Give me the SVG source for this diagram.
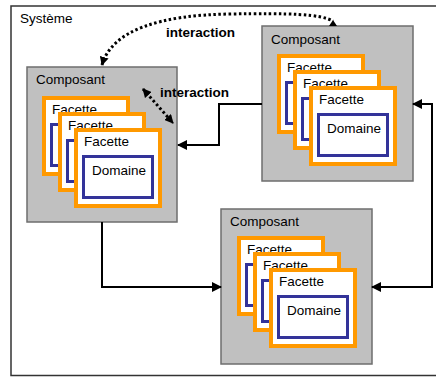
<svg xmlns="http://www.w3.org/2000/svg" width="436" height="378" viewBox="0 0 436 378">
<style>
text{font-family:"Liberation Sans",Arial,sans-serif;font-size:13.5px;fill:#000}
.b{font-weight:bold}
.comp{fill:#c0c0c0;stroke:#6e6e6e;stroke-width:1.5}
.fac{fill:#fff;stroke:#ff9900;stroke-width:4}
.dom{fill:#fff;stroke:#333399;stroke-width:3}
.solid{fill:none;stroke:#000;stroke-width:2}
.dot{fill:none;stroke:#000;stroke-width:3;stroke-dasharray:2.5 2.5}
</style>
<defs>
<marker id="ah" viewBox="0 0 10 10" refX="9" refY="5" markerWidth="10" markerHeight="10" markerUnits="userSpaceOnUse" orient="auto-start-reverse"><path d="M0,0 L10,5 L0,10 Z" fill="#000"/></marker>
<marker id="ahd" viewBox="0 0 10 10" refX="9" refY="5" markerWidth="9" markerHeight="9" markerUnits="userSpaceOnUse" orient="auto-start-reverse"><path d="M0,0 L10,5 L0,10 Z" fill="#000"/></marker>
<marker id="ahup" viewBox="0 0 10 10" refX="9" refY="5" markerWidth="9" markerHeight="9" markerUnits="userSpaceOnUse" orient="-90"><path d="M0,0 L10,5 L0,10 Z" fill="#000"/></marker>
</defs>
<g id="systeme">
<rect x="11" y="6" width="440" height="369.5" fill="#fff" stroke="#333" stroke-width="1.5"/>
<text x="20" y="23">Système</text>
</g>
<g id="composant-gauche">
<rect class="comp" x="27" y="67" width="150" height="155"/>
<text x="36" y="84">Composant</text>
<rect class="fac" x="44" y="98" width="84" height="76"/>
<rect class="dom" x="51.5" y="124.5" width="69" height="41"/>
<text x="52" y="114">Facette</text>
<rect class="fac" x="60" y="114" width="84" height="76"/>
<rect class="dom" x="67.5" y="140.5" width="69" height="41"/>
<text x="68" y="130">Facette</text>
<rect class="fac" x="76" y="130" width="84" height="76"/>
<rect class="dom" x="83.5" y="156.5" width="69" height="41"/>
<text x="84" y="146">Facette</text>
<text x="92" y="175">Domaine</text>
</g>
<g id="composant-haut">
<rect class="comp" x="262" y="26" width="151" height="155"/>
<text x="271" y="44">Composant</text>
<rect class="fac" x="279" y="56" width="84" height="76"/>
<rect class="dom" x="286.5" y="82.5" width="69" height="41"/>
<text x="287" y="72">Facette</text>
<rect class="fac" x="295" y="72" width="84" height="76"/>
<rect class="dom" x="302.5" y="98.5" width="69" height="41"/>
<text x="303" y="88">Facette</text>
<rect class="fac" x="311" y="88" width="84" height="76"/>
<rect class="dom" x="318.5" y="114.5" width="69" height="41"/>
<text x="319" y="104">Facette</text>
<text x="327" y="133">Domaine</text>
</g>
<g id="composant-bas">
<rect class="comp" x="221" y="209" width="151" height="155"/>
<text x="230" y="226">Composant</text>
<rect class="fac" x="239" y="238" width="84" height="76"/>
<rect class="dom" x="246.5" y="264.5" width="69" height="41"/>
<text x="247" y="254">Facette</text>
<rect class="fac" x="255" y="254" width="84" height="76"/>
<rect class="dom" x="262.5" y="280.5" width="69" height="41"/>
<text x="263" y="270">Facette</text>
<rect class="fac" x="271" y="270" width="84" height="76"/>
<rect class="dom" x="278.5" y="296.5" width="69" height="41"/>
<text x="279" y="286">Facette</text>
<text x="287" y="315">Domaine</text>
</g>
<g id="connecteurs">
<path class="dot" d="M102,65 C112,30 160,15 230,14 C290,13 320,14 333,21" marker-start="url(#ahd)"/>
<path d="M329,26 L333,20 L337,26 Z" fill="#000"/>
<path class="dot" d="M143,89 L173,123" marker-start="url(#ahd)" marker-end="url(#ahd)"/>
<path class="solid" d="M262,104 H219 V145 H178" marker-end="url(#ah)"/>
<path class="solid" d="M102,222 V287 H221" marker-end="url(#ah)"/>
<path class="solid" d="M413,104 H432 V287 H372" marker-start="url(#ah)" marker-end="url(#ah)"/>
<text class="b" x="166" y="37">interaction</text>
<text class="b" x="160" y="97">interaction</text>
</g>
</svg>
